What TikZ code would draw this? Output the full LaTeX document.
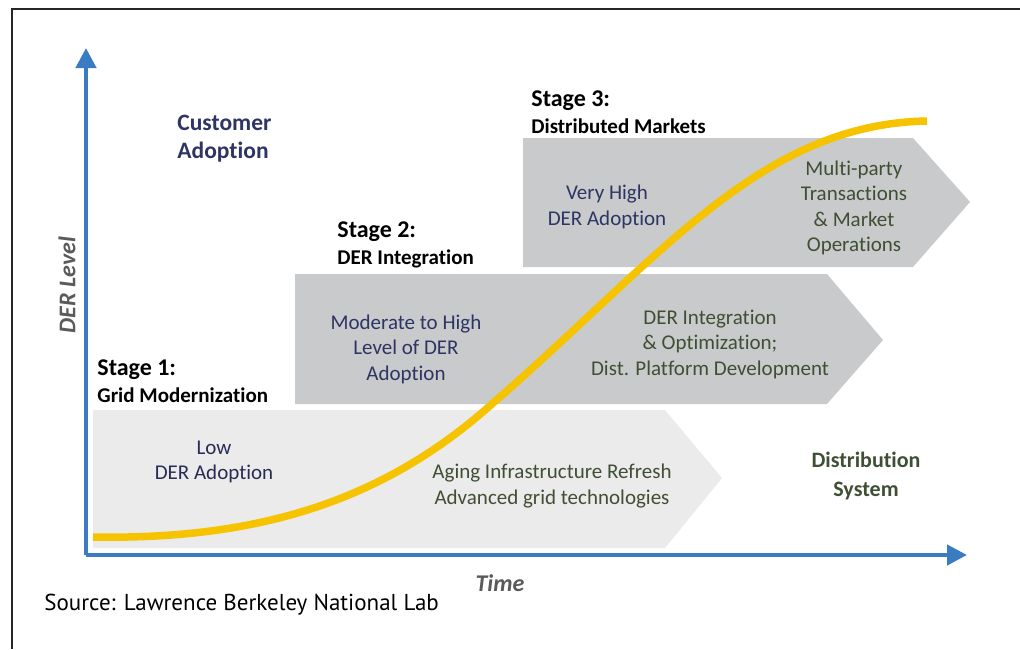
\documentclass[tikz,border=0pt]{standalone}
\usepackage{fontspec}
\setmainfont{Carlito}[Ligatures={NoCommon}]
\newfontfamily\srcfont{PT Sans}
\usepackage{tikz}
\usetikzlibrary{arrows.meta}
\usetikzlibrary{positioning,calc}

\definecolor{axisblue}{HTML}{3A7CC2}
\definecolor{curveyellow}{HTML}{F6C300}
\definecolor{chevlight}{HTML}{EBEBEB}
\definecolor{chevgray}{HTML}{C9CACC}
\definecolor{navytxt}{HTML}{2E3463}
\definecolor{greentxt}{HTML}{3F4F33}
\definecolor{axislabel}{HTML}{5A5A5A}

\begin{document}
\begin{tikzpicture}[x=1pt,y=-1pt,line width=0.8pt,
    body/.style={align=center,inner sep=0pt,font=\fontsize{21}{25.5}\selectfont},
    stagelbl/.style={align=left,anchor=west,inner sep=0pt,font=\bfseries\fontsize{21}{27}\selectfont},
    axis/.style={axisblue,line width=4.5pt,-{Triangle[length=20pt,width=20pt]}}]
    \useasboundingbox (0,0) rectangle (1020,649);
    % frame
    \coordinate (F1) at (1020,9);
    \coordinate (F2) at (12,9);
    \coordinate (F3) at (12,649);
    \draw[line width=2.5pt,black!85] (F1)--(F2)--(F3);

    % chevrons
    \fill[chevlight] (93,410)--(665,410)--(722,478)--(665,548)--(93,548)--cycle;
    \fill[chevgray] (295,274)--(827,274)--(883,340)--(827,404)--(295,404)--cycle;
    \fill[chevgray] (523,138)--(913,138)--(970,202)--(913,267)--(523,267)--cycle;

    % axes
    \coordinate (O) at (86,555);
    \coordinate (X) at (967,555);
    \coordinate (Y) at (86,48);
    \draw[axis] (O)--(X);
    \draw[axis] (O)--(Y);

    % adoption curve
    \coordinate (C0) at (93,537);
    \coordinate (C1) at (493,403);
    \coordinate (C2) at (927,121);
    \draw[curveyellow,line width=7.5pt] (C0) .. controls (260,540) and (385,500) .. (C1)
      .. controls (660,258) and (760,124) .. (C2);

    \node[inner sep=0pt,rotate=90,font=\bfseries\itshape\fontsize{24}{28}\selectfont,axislabel] (ylbl) at (67,285) {DER Level};
    \node[inner sep=0pt,font=\bfseries\itshape\fontsize{24}{28}\selectfont,axislabel] (xlbl) at (500,583) {Time};
    \node[align=left,anchor=west,inner sep=0pt,font=\bfseries\fontsize{23.5}{28}\selectfont,navytxt] (cust) at (177,139) {Customer\\Adoption};
    \node[align=center,inner sep=0pt,font=\bfseries\fontsize{22}{29}\selectfont,greentxt] (dist) at (866,476) {Distribution\\System};

    % stage labels
    \node[stagelbl] (st1) at (97,381) {{\fontsize{24}{27}\selectfont Stage 1:}\\Grid Modernization};
    \node[stagelbl] (st2) at (337,245) {{\fontsize{24}{27}\selectfont Stage 2:}\\DER Integration};
    \node[stagelbl] (st3) at (531,112) {{\fontsize{24}{27}\selectfont Stage 3:}\\Distributed Markets};

    % chevron texts
    \node[body,navytxt!85!black] (low) at (214,462) {Low\\DER Adoption};
    \node[body,greentxt] (aging) at (552,486) {Aging Infrastructure Refresh\\Advanced grid technologies};
    \node[body,navytxt] (mod) at (406,349) {Moderate to High\\Level of DER\\Adoption};
    \node[body,greentxt] (integ) at (710,344) {DER Integration\\\& Optimization;\\Dist. Platform Development};
    \node[body,navytxt] (vhigh) at (607,207) {Very High\\DER Adoption};
    \node[body,greentxt] (multi) at (854,208) {Multi-party\\Transactions\\\& Market\\Operations};

    \node[anchor=west,inner sep=0pt,font=\srcfont\fontsize{23}{26}\selectfont] (src) at (44,605) {Source: Lawrence Berkeley National Lab};
\end{tikzpicture}
\end{document}
